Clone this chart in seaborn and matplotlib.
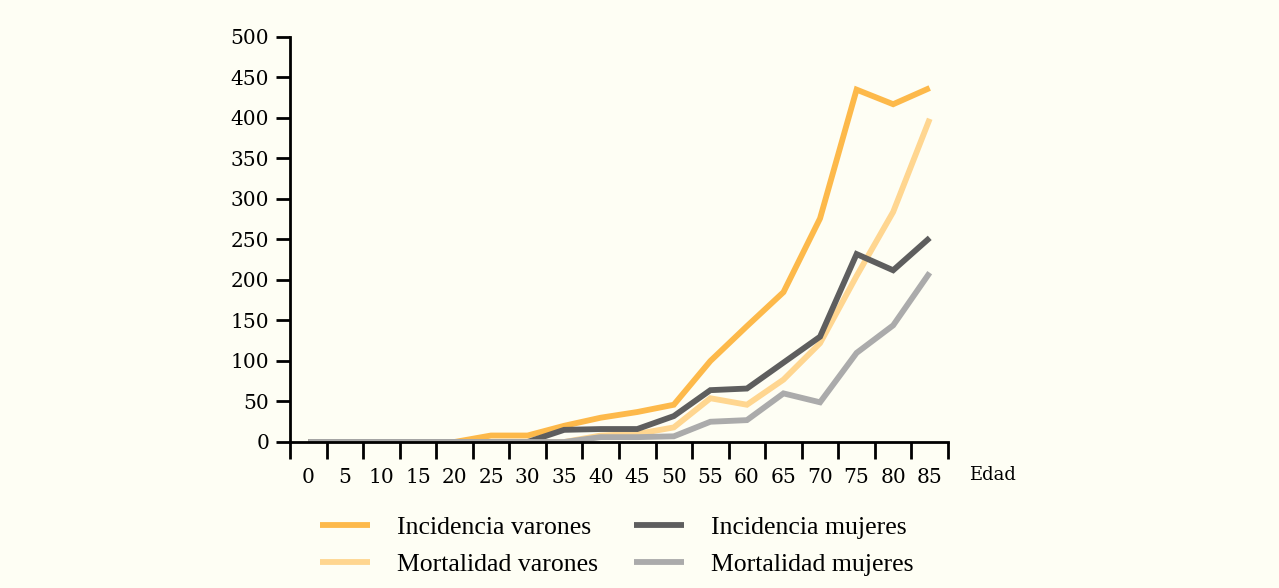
import matplotlib as mpl
mpl.use('Agg')
import matplotlib.pyplot as plt
import seaborn as sns
import pandas as pd
import numpy as np

# Age groups (x) and rates per series
EDAD = [0, 5, 10, 15, 20, 25, 30, 35, 40, 45, 50, 55, 60, 65, 70, 75, 80, 85]
INCIDENCIA_VARONES = [0, 0, 0, 0, 0, 8, 8, 20, 30, 37, 46, 100, 143, 185, 276, 435, 417, 437]
MORTALIDAD_VARONES = [0, 0, 0, 0, 0, 0, 0, 0, 8, 10, 18, 54, 46, 77, 122, 205, 284, 399]
INCIDENCIA_MUJERES = [0, 0, 0, 0, 0, 0, 0, 15, 16, 16, 32, 64, 66, 98, 130, 232, 212, 252]
MORTALIDAD_MUJERES = [0, 0, 0, 0, 0, 0, 0, 0, 6, 6, 7, 25, 27, 60, 49, 110, 144, 209]

SERIES = ["Incidencia varones", "Mortalidad varones",
          "Incidencia mujeres", "Mortalidad mujeres"]
COLORS = ["#FDB94A", "#FFD690", "#5E5E5E", "#ABABAB"]
Y_TICKS = [0, 50, 100, 150, 200, 250, 300, 350, 400, 450, 500]

BG = "#FEFEF4"

sns.set_style("ticks")
plt.rcParams['font.family'] = ['DejaVu Serif']
plt.rcParams['text.color'] = 'black'

frames = []
for name, vals in zip(SERIES, [INCIDENCIA_VARONES, MORTALIDAD_VARONES,
                               INCIDENCIA_MUJERES, MORTALIDAD_MUJERES]):
    frames.append(pd.DataFrame({"edad": EDAD, "valor": vals, "serie": name}))
df = pd.concat(frames, ignore_index=True)

fig = plt.figure(figsize=(12.79, 5.88), dpi=100, facecolor=BG)
ax = fig.add_axes([0.2267, 0.2483, 0.5145, 0.6888])
ax.set_facecolor(BG)

sns.lineplot(data=df, x="edad", y="valor", hue="serie", hue_order=SERIES,
             palette=COLORS, linewidth=4.2, ax=ax, legend=False, sort=False,
             solid_joinstyle="miter", solid_capstyle="butt")

ax.set_xlim(-2.5, 87.5)
ax.set_ylim(0, 500)

# boundary ticks on x, labels at group centres
ax.set_xticks(np.arange(-2.5, 88, 5))
ax.set_xticklabels([])
ax.set_xticks(EDAD, minor=True)
ax.set_xticklabels([str(e) for e in EDAD], minor=True)
ax.tick_params(axis='x', which='major', length=12, width=2, direction='out', color='black')
ax.tick_params(axis='x', which='minor', length=0, pad=19, labelsize=14.5,
               labelcolor='black')
ax.set_yticks(Y_TICKS)
ax.tick_params(axis='y', length=10, width=2, color='black', labelsize=14.5, pad=5,
               labelcolor='black')

for side in ["top", "right"]:
    ax.spines[side].set_visible(False)
for side in ["left", "bottom"]:
    ax.spines[side].set_linewidth(2)
    ax.spines[side].set_color("black")

ax.set_xlabel("")
ax.set_ylabel("")
fig.text(0.758, 0.192, "Edad", fontsize=13, family="DejaVu Serif",
         ha="left", va="center", color="black")

handles = ax.get_lines()[:4]
leg = fig.legend(handles, SERIES, ncol=2, loc="upper left",
                 bbox_to_anchor=(0.250, 0.123), frameon=False,
                 prop={"family": "Liberation Serif", "size": 18.5},
                 handlelength=1.95, handletextpad=1.05, columnspacing=1.4,
                 labelspacing=0.55, borderaxespad=0, borderpad=0)
for t in leg.get_texts():
    t.set_color("black")

fig.savefig("out.png", dpi=100, facecolor=BG)
